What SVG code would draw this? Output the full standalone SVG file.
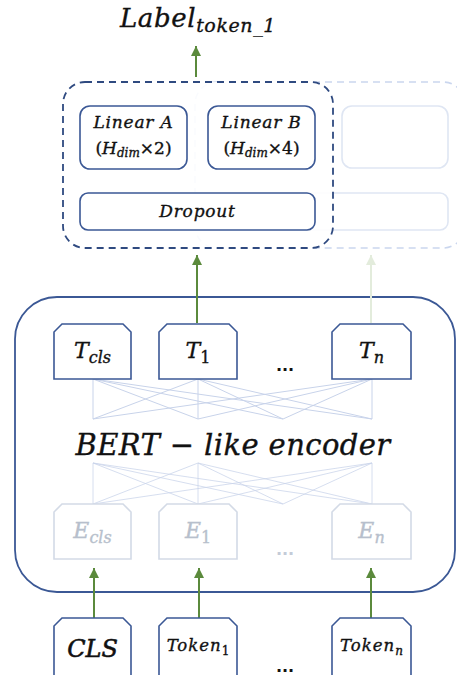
<svg xmlns="http://www.w3.org/2000/svg" width="457" height="675" viewBox="0 0 457 675">
<defs>
<style>
.m{font-family:"DejaVu Serif","Liberation Serif",serif;font-style:italic;fill:#111;stroke:#111;stroke-width:0.35}
.box{fill:#fff;stroke:#3b5895;stroke-width:1.6}
.fbox{fill:#fff;stroke:#d3dae6;stroke-width:1.6}
.fade{fill:none;stroke:#dfe6f3;stroke-width:1.6}
.fan{stroke:#c8d3ea;stroke-width:1;fill:none}
.arr{stroke:#5b8a3c;stroke-width:2;fill:none}
.farr{stroke:#e3ecdc;stroke-width:2;fill:none}
.dots{font-family:"DejaVu Sans",sans-serif;font-weight:bold;font-size:16px;text-anchor:middle}
.lt{fill:#b7bfcc;stroke:#b7bfcc}
</style>
<marker id="ah" viewBox="0 0 10 10" refX="10" refY="5" markerWidth="5" markerHeight="5" orient="auto" markerUnits="strokeWidth">
<path d="M0,0 L10,5 L0,10 Z" fill="#5b8a3c"/>
</marker>
<marker id="fah" viewBox="0 0 10 10" refX="10" refY="5" markerWidth="5" markerHeight="5" orient="auto" markerUnits="strokeWidth">
<path d="M0,0 L10,5 L0,10 Z" fill="#e3ecdc"/>
</marker>
</defs>
<rect width="457" height="675" fill="#fff"/>

<!-- faded second head -->
<g id="head-faded">
<rect x="195" y="82" width="270" height="166" rx="22" fill="none" stroke="#cad6ee" stroke-width="1.6" stroke-dasharray="7,5"/>
<rect x="342" y="106" width="106" height="62" rx="10" class="fade"/>
<rect x="212" y="193" width="236" height="37" rx="8" class="fade"/>
</g>

<!-- classification head -->
<g id="head">
<rect x="63" y="82" width="270" height="166" rx="22" fill="#fff" fill-opacity="0.9" stroke="#2f4a80" stroke-width="1.8" stroke-dasharray="7,5"/>
</g>
<g id="linearA">
<rect x="80" y="106" width="107" height="63" rx="10" class="box"/>
<text class="m" x="133.5" y="128" font-size="17" letter-spacing="0.8" text-anchor="middle">Linear A</text>
<text class="m" x="133.5" y="154" font-size="17" text-anchor="middle"><tspan font-style="normal">(</tspan>H<tspan font-size="12" dy="3">dim</tspan><tspan font-style="normal" dy="-3">×2)</tspan></text>
</g>
<g id="linearB">
<rect x="208" y="106" width="107" height="63" rx="10" class="box"/>
<text class="m" x="261.5" y="128" font-size="17" letter-spacing="0.8" text-anchor="middle">Linear B</text>
<text class="m" x="261.5" y="154" font-size="17" text-anchor="middle"><tspan font-style="normal">(</tspan>H<tspan font-size="12" dy="3">dim</tspan><tspan font-style="normal" dy="-3">×4)</tspan></text>
</g>
<g id="dropout">
<rect x="80" y="193" width="235" height="37" rx="8" class="box"/>
<text class="m" x="197.5" y="217" font-size="17" letter-spacing="0.8" text-anchor="middle">Dropout</text>
</g>

<g id="label">
<text class="m" x="198" y="27" font-size="26" letter-spacing="0.6" text-anchor="middle">Label<tspan font-size="19" dy="5">token_1</tspan></text>
</g>

<!-- encoder -->
<g id="encoder">
<rect x="15" y="297" width="440" height="295" rx="42" fill="none" stroke="#3b5895" stroke-width="1.8"/>
<text class="m" x="233" y="455" font-size="29" letter-spacing="0.4" text-anchor="middle">BERT − like encoder</text>
</g>

<g id="connectors">
<g class="fan">
<path d="M93,379 L93,419 M93,379 L198,419 M93,379 L283,419 M93,379 L372,419
M198,379 L93,419 M198,379 L198,419 M198,379 L283,419 M198,379 L372,419
M372,379 L93,419 M372,379 L198,419 M372,379 L283,419 M372,379 L372,419"/>
<path d="M93,463 L93,504 M93,463 L198,504 M93,463 L283,504 M93,463 L372,504
M198,463 L93,504 M198,463 L198,504 M198,463 L283,504 M198,463 L372,504
M372,463 L93,504 M372,463 L198,504 M372,463 L283,504 M372,463 L372,504" opacity="0.75"/>
</g>
<line class="arr" x1="196" y1="77" x2="196" y2="46" marker-end="url(#ah)"/>
<line class="arr" x1="197" y1="323" x2="197" y2="255" marker-end="url(#ah)"/>
<line class="farr" x1="371" y1="323" x2="371" y2="255" marker-end="url(#fah)"/>
<line class="arr" x1="94" y1="618" x2="94" y2="568" marker-end="url(#ah)"/>
<line class="arr" x1="199" y1="618" x2="199" y2="568" marker-end="url(#ah)"/>
<line class="arr" x1="371" y1="618" x2="371" y2="568" marker-end="url(#ah)"/>
</g>

<!-- T outputs -->
<g id="Tcls">
<path class="box" d="M54,379 V332 L62,324 H123 L131,332 V379 Z"/>
<text class="m" x="92.5" y="358" font-size="22" text-anchor="middle">T<tspan font-size="16" dy="5">cls</tspan></text>
</g>
<g id="T1">
<path class="box" d="M159,379 V332 L167,324 H229 L237,332 V379 Z"/>
<text class="m" x="198" y="358" font-size="22" text-anchor="middle">T<tspan font-size="16" dy="5" font-style="normal">1</tspan></text>
</g>
<g id="Tn">
<path class="box" d="M332,379 V332 L340,324 H403 L411,332 V379 Z"/>
<text class="m" x="371.5" y="358" font-size="22" text-anchor="middle">T<tspan font-size="16" dy="5">n</tspan></text>
</g>
<text class="dots" x="285" y="371" fill="#111">...</text>

<!-- E embeddings -->
<g id="Ecls">
<path class="fbox" d="M54,559 V512 L62,504 H123 L131,512 V559 Z"/>
<text class="m lt" x="92.5" y="538" font-size="22" text-anchor="middle">E<tspan font-size="16" dy="5">cls</tspan></text>
</g>
<g id="E1">
<path class="fbox" d="M159,559 V512 L167,504 H229 L237,512 V559 Z"/>
<text class="m lt" x="198" y="538" font-size="22" text-anchor="middle">E<tspan font-size="16" dy="5" font-style="normal">1</tspan></text>
</g>
<g id="En">
<path class="fbox" d="M332,559 V512 L340,504 H403 L411,512 V559 Z"/>
<text class="m lt" x="371.5" y="538" font-size="22" text-anchor="middle">E<tspan font-size="16" dy="5">n</tspan></text>
</g>
<text class="dots" x="285" y="555" fill="#c4cbd8">...</text>

<!-- input tokens -->
<g id="CLS">
<path class="box" d="M54,678 V626 L62,618 H123 L131,626 V678 Z"/>
<text class="m" x="92.5" y="657" font-size="24" text-anchor="middle" style="stroke-width:0.6">CLS</text>
</g>
<g id="Token1">
<path class="box" d="M159,678 V626 L167,618 H229 L237,626 V678 Z"/>
<text class="m" x="198" y="651" font-size="16.5" letter-spacing="1" text-anchor="middle">Token<tspan font-size="12" dy="4" font-style="normal" letter-spacing="0">1</tspan></text>
</g>
<g id="Tokenn">
<path class="box" d="M332,678 V626 L340,618 H403 L411,626 V678 Z"/>
<text class="m" x="371.5" y="651" font-size="16.5" letter-spacing="1" text-anchor="middle">Token<tspan font-size="12" dy="4" letter-spacing="0">n</tspan></text>
</g>
<text class="dots" x="285" y="672" fill="#111">...</text>
</svg>
